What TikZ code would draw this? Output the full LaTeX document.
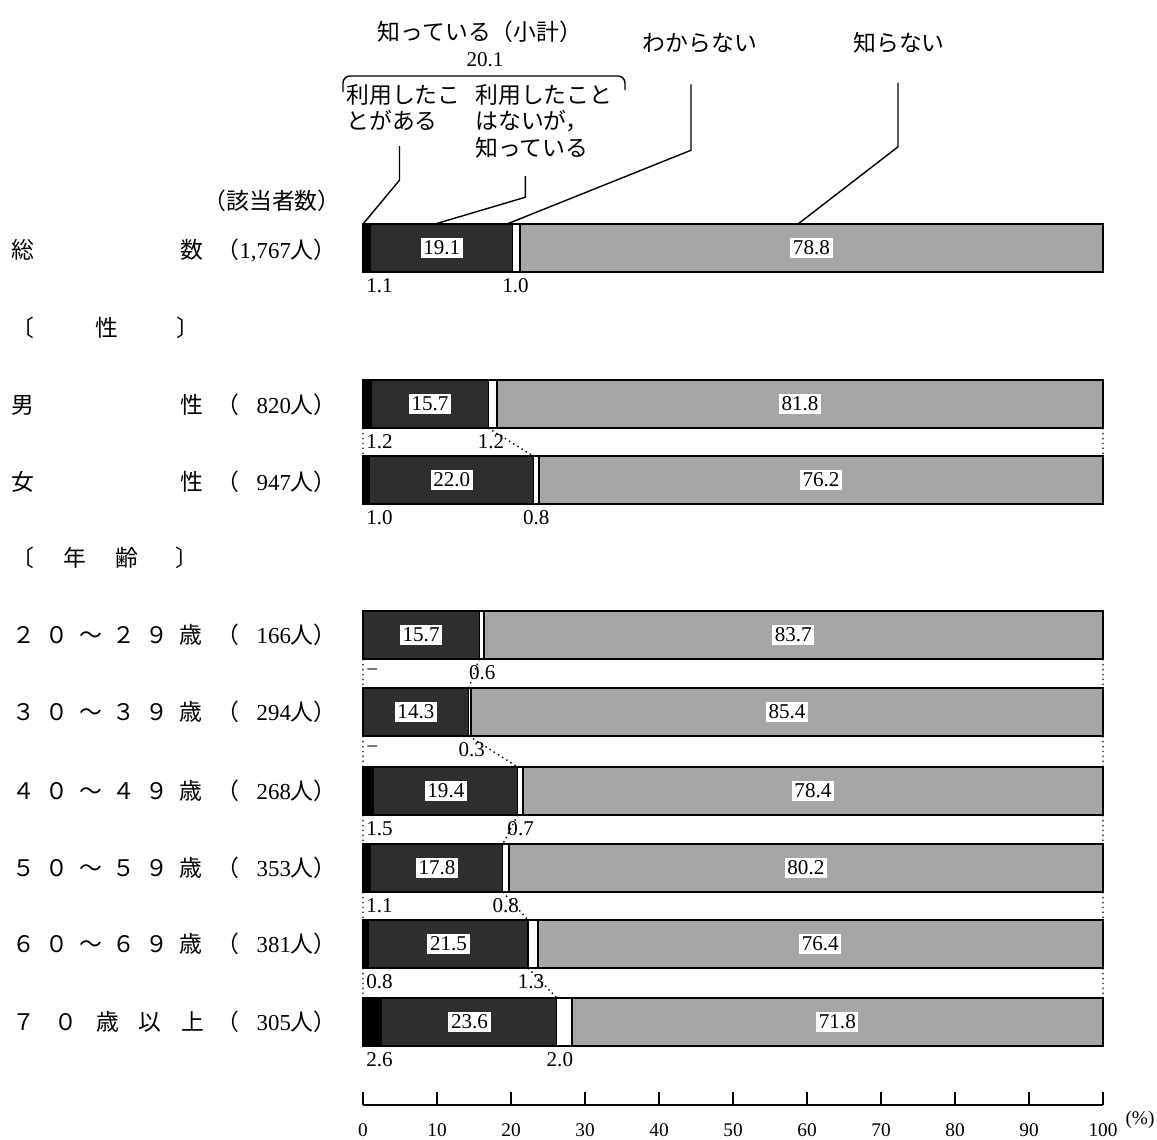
\documentclass[tikz,border=0pt]{standalone}
\usepackage{fontspec}
\setmainfont{Liberation Serif}
\newfontfamily\jpfont{Noto Sans CJK JP}
\newcommand{\gap}{\hspace{6pt}}
\begin{document}
\begin{tikzpicture}[x=0.02cm, y=-0.02cm,
    jp/.style={font=\jpfont\fontsize{13}{15}\selectfont, inner sep=0pt},
    num/.style={font=\fontsize{12}{14}\selectfont, inner sep=0pt},
    axnum/.style={font=\fontsize{11}{13}\selectfont, inner sep=0pt},
    valbox/.style={num, fill=white, inner sep=1.5pt},
    usedseg/.style={fill=black},
    knewseg/.style={fill=black!82},
    notseg/.style={fill=black!35},
    frame/.style={line width=1.2pt},
    leader/.style={line width=0.8pt},
    link/.style={dotted, line width=0.8pt}]
  \useasboundingbox (0,0) rectangle (1157,1140);

  % bars: name / y / label of first part / used / knew / unsure / not known
  \foreach \n/\y/\la/\ua/\kn/\wk/\nk in {tot/248/1.1/1.1/19.1/1.0/78.8, m/404/1.2/1.2/15.7/1.2/81.8,
      f/480/1.0/1.0/22.0/0.8/76.2, a20/635/−/0/15.7/0.6/83.7, a30/712/−/0/14.3/0.3/85.4,
      a40/791/1.5/1.5/19.4/0.7/78.4, a50/868/1.1/1.1/17.8/0.8/80.2,
      a60/944/0.8/0.8/21.5/1.3/76.4, a70/1022/2.6/2.6/23.6/2.0/71.8}
  {
    \pgfmathsetmacro\xa{363+7.4*\ua}
    \pgfmathsetmacro\xb{363+7.4*(\ua+\kn)}
    \pgfmathsetmacro\xc{363+7.4*(\ua+\kn+\wk)}
    \pgfmathsetmacro\xk{(\xa+\xb)/2}
    \pgfmathsetmacro\xn{(\xc+1103)/2}
    \fill[usedseg] (363,\y-24) rectangle (\xa,\y+24);
    \fill[knewseg] (\xa,\y-24) rectangle (\xb,\y+24);
    \fill[notseg] (\xc,\y-24) rectangle (1103,\y+24);
    \draw[line width=0.6pt] (\xb,\y-24) -- (\xb,\y+24);
    \draw[line width=1pt] (\xc,\y-24) -- (\xc,\y+24);
    \draw[frame] (363,\y-24) rectangle (1103,\y+24);
    \coordinate (\n-tl) at (363,\y-24);
    \coordinate (\n-bl) at (363,\y+24);
    \coordinate (\n-tr) at (1103,\y-24);
    \coordinate (\n-br) at (1103,\y+24);
    \coordinate (\n-tx) at (\xb,\y-24);
    \coordinate (\n-bx) at (\xb,\y+24);
    \node[valbox] (\n-kv) at (\xk,\y) {\kn};
    \node[valbox] (\n-nv) at (\xn,\y) {\nk};
    \node[num, anchor=west] (\n-uv) at (366,\y+38) {\la};
    \node[num] (\n-wv) at (\xb+3,\y+38) {\wk};
  }

  % dotted links between neighbouring bars
  \foreach \u/\l in {m/f, a20/a30, a30/a40, a40/a50, a50/a60, a60/a70}
    \draw[link] (\u-bl) -- (\l-tl) (\u-br) -- (\l-tr) (\u-bx) -- (\l-tx);

  % legend above the bars
  \node[jp] (knowsum) at (480,32) {知っている（小計）};
  \node[num] (knowval) at (485,60) {20.1};
  \draw[leader, rounded corners=4pt] (343,92) -- (343,76) -- (625,76) -- (625,90);
  \node[jp, align=left, anchor=north west] (usedlbl) at (346,84) {利用したこ\\とがある};
  \node[jp, align=left, anchor=north west] (knewlbl) at (475,84) {利用したこと\\はないが，\\知っている};
  \node[jp] (dklbl) at (700,43) {わからない};
  \node[jp] (notlbl) at (899,43) {知らない};
  \coordinate (knewtip) at (435,224);
  \coordinate (dunnotip) at (507,224);
  \coordinate (nottip) at (798,224);
  \draw[leader] ([xshift=-0.08cm, yshift=-0.3cm]usedlbl.south) -- ++(0,34) -- (tot-tl);
  \draw[leader] ([xshift=-0.37cm, yshift=-0.36cm]knewlbl.south) -- ++(0,21) -- (knewtip);
  \draw[leader] ([xshift=-0.18cm, yshift=-0.62cm]dklbl.south) -- ++(0,66) -- (dunnotip);
  \draw[leader] ([xshift=-0.02cm, yshift=-0.58cm]notlbl.south) -- ++(0,64) -- (nottip);

  % row labels
  \node[jp] (cntlbl) at (272,201) {（該当者数）};
  \node[jp] (tot-l1) at (23,250) {総};
  \node[jp] (tot-l2) at (192,250) {数};
  \node[jp, anchor=east] (tot-cnt) at (337,250) {（{\rmfamily 1,767}人）};
  \node[jp, anchor=west] (sexhead) at (11,328) {〔\hspace{35pt}性\hspace{33pt}〕};
  \node[jp] (m-l1) at (23,405) {男};
  \node[jp] (m-l2) at (192,405) {性};
  \node[jp, anchor=east] (m-cnt) at (337,405) {（\hspace{10pt}{\rmfamily 820}人）};
  \node[jp] (f-l1) at (23,482) {女};
  \node[jp] (f-l2) at (192,482) {性};
  \node[jp, anchor=east] (f-cnt) at (337,482) {（\hspace{10pt}{\rmfamily 947}人）};
  \node[jp, anchor=west] (agehead) at (11,558) {〔\hspace{16.5pt}年\hspace{17pt}齢\hspace{21pt}〕};
  \foreach \n/\y/\dg/\pp in {a20/635/２/166, a30/712/３/294, a40/791/４/268, a50/868/５/353, a60/944/６/381}
  {
    \node[jp, anchor=west] (\n-l) at (12,\y) {\dg\gap{}０\gap{}～\gap{}\dg\gap{}９\gap{}歳};
    \node[jp, anchor=east] (\n-cnt) at (337,\y) {（\hspace{10pt}{\rmfamily \pp}人）};
  }
  \node[jp, anchor=west] (a70-l) at (12,1022) {７\hspace{11pt}０\hspace{11pt}歳\hspace{11pt}以\hspace{11pt}上};
  \node[jp, anchor=east] (a70-cnt) at (337,1022) {（\hspace{10pt}{\rmfamily 305}人）};

  % scale
  \draw[leader] (363,1105) -- (1103,1105);
  \foreach \p in {0,10,...,100}
  {
    \draw[leader] (363+7.4*\p,1105) -- ++(0,-13);
    \node[axnum] (tick\p) at (363+7.4*\p,1130) {\p};
  }
  \node[axnum] (pct) at (1140,1120) {(\%)};
\end{tikzpicture}
\end{document}
